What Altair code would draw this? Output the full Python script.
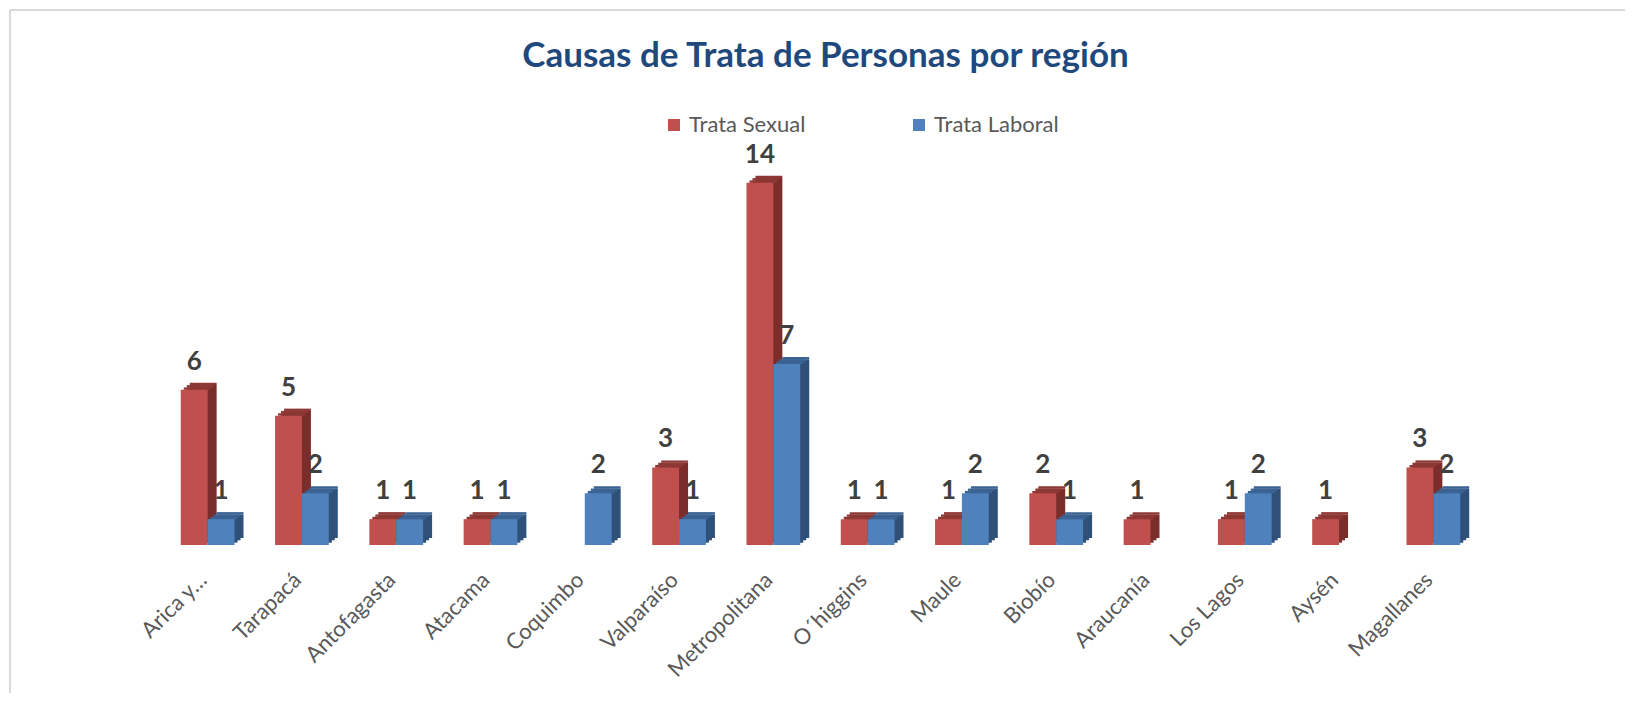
import json
import altair as alt
import pandas as pd

regiones = ["Arica y…", "Tarapacá", "Antofagasta", "Atacama", "Coquimbo", "Valparaíso",
            "Metropolitana", "O´higgins", "Maule", "Biobío", "Araucanía", "Los Lagos",
            "Aysén", "Magallanes"]
series = ["Trata Sexual", "Trata Laboral"]
sexual = [6, 5, 1, 1, 0, 3, 14, 1, 1, 2, 1, 1, 1, 3]
laboral = [1, 2, 1, 1, 2, 1, 7, 1, 2, 1, 0, 2, 0, 2]

front_colors = ["#C0504D", "#4F81BD"]
top_colors = ["#8E3835", "#3B6394"]
side_colors = ["#7B2D2B", "#2F5179"]

rows = []
for i, r in enumerate(regiones):
    rows.append({"region": r, "idx": i, "s": 0, "serie": series[0], "valor": sexual[i]})
    rows.append({"region": r, "idx": i, "s": 1, "serie": series[1], "valor": laboral[i]})
df = pd.DataFrame(rows)

W, H = 1320, 414
PL, PT = 152.5, 123
PR = 1617 - PL - W
PB = 685 - PT - H
DX, DY = 9, 7
NSTEP = 3
FONT = "Lato"
GAP = 0.215      # outer gap of each category band (in category units)
BARW = 0.285     # width of one bar (in category units)

label_expr = json.dumps(regiones, ensure_ascii=False) + "[round(datum.value - 0.5)]"

x_scale = alt.Scale(domain=[0, len(regiones)], nice=False, zero=False)
x_enc = alt.X("x0:Q", scale=x_scale,
              axis=alt.Axis(title=None, values=[i + 0.5 for i in range(len(regiones))],
                            labelExpr=label_expr, labelAngle=-45, domain=False,
                            ticks=False, grid=False, labelFont=FONT, labelFontSize=22,
                            labelColor="#595959", labelPadding=24, labelOffset=-12,
                            labelFlush=False, labelOverlap=False))
x2_enc = alt.X2("x1:Q")
y_scale = alt.Scale(domain=[0, 16], nice=False)
y_enc = alt.Y("valor:Q", scale=y_scale, axis=None)
y2_zero = alt.Y2("cero:Q")
y2_top = alt.Y2("valor:Q")

base = alt.Chart(df).transform_filter("datum.valor > 0").transform_calculate(
    x0=f"datum.idx + {GAP} + datum.s * {BARW}",
    x1=f"datum.idx + {GAP} + (datum.s + 1) * {BARW}",
    xm=f"datum.idx + {GAP} + (datum.s + 0.5) * {BARW}",
    cero="0",
)

layers = []
# side faces (stair-step approximation of the 3D depth)
for k in range(NSTEP, 0, -1):
    ox = DX * k / NSTEP
    layers.append(base.mark_rect(xOffset=ox, x2Offset=ox,
                                 yOffset=-DY * (k - 1) / NSTEP,
                                 y2Offset=-DY * k / NSTEP).encode(
        x=x_enc, x2=x2_enc, y=y_enc, y2=y2_zero,
        color=alt.Color("serie:N", scale=alt.Scale(domain=series, range=side_colors),
                        legend=None)))
# top faces
for k in range(NSTEP, 0, -1):
    ox = DX * k / NSTEP
    layers.append(base.mark_rect(xOffset=ox, x2Offset=ox,
                                 yOffset=-DY * k / NSTEP,
                                 y2Offset=-DY * (k - 1) / NSTEP).encode(
        x=x_enc, x2=x2_enc, y=y_enc, y2=y2_top,
        color=alt.Color("serie:N", scale=alt.Scale(domain=series, range=top_colors),
                        legend=None)))

front_layer = base.mark_rect().encode(
    x=x_enc, x2=x2_enc, y=y_enc, y2=y2_zero,
    color=alt.Color("serie:N", scale=alt.Scale(domain=series, range=front_colors),
                    legend=alt.Legend(orient="none", legendX=502.5, legendY=-17,
                                      direction="horizontal", title=None,
                                      symbolType="square", symbolSize=144,
                                      symbolStrokeWidth=0, labelFont=FONT,
                                      labelFontSize=22, labelColor="#595959",
                                      columnPadding=102, labelOffset=4, padding=0)),
)
labels = base.mark_text(font=FONT, fontWeight="bold", fontSize=26, color="#404040",
                        dy=-20, baseline="alphabetic").encode(
    x=alt.X("xm:Q", scale=x_scale), y=y_enc, text=alt.Text("valor:Q"),
)

border_v = alt.Chart(df).mark_rule(color="#D9D9D9", strokeWidth=2).encode(
    x=alt.value(-PL + 2), y=alt.value(-PT + 2), y2=alt.value(H + PB + 10))
border_h = alt.Chart(df).mark_rule(color="#D9D9D9", strokeWidth=2).encode(
    x=alt.value(-PL + 2), x2=alt.value(W + PR + 10), y=alt.value(-PT + 2))

chart = alt.layer(border_v, border_h, *layers, front_layer, labels).resolve_scale(
    color="independent"
).properties(
    width=W, height=H,
    autosize=alt.AutoSizeParams(type="none"),
    padding={"left": PL, "top": PT, "right": PR, "bottom": PB},
    title=alt.Title("Causas de Trata de Personas por región", font=FONT, fontSize=35,
                    fontWeight="bold", color="#1F497D", anchor="middle", frame="group",
                    offset=-65, dx=5),
).configure_view(stroke=None)

chart.save("out.html", embed_options={"renderer": "svg", "actions": False})
